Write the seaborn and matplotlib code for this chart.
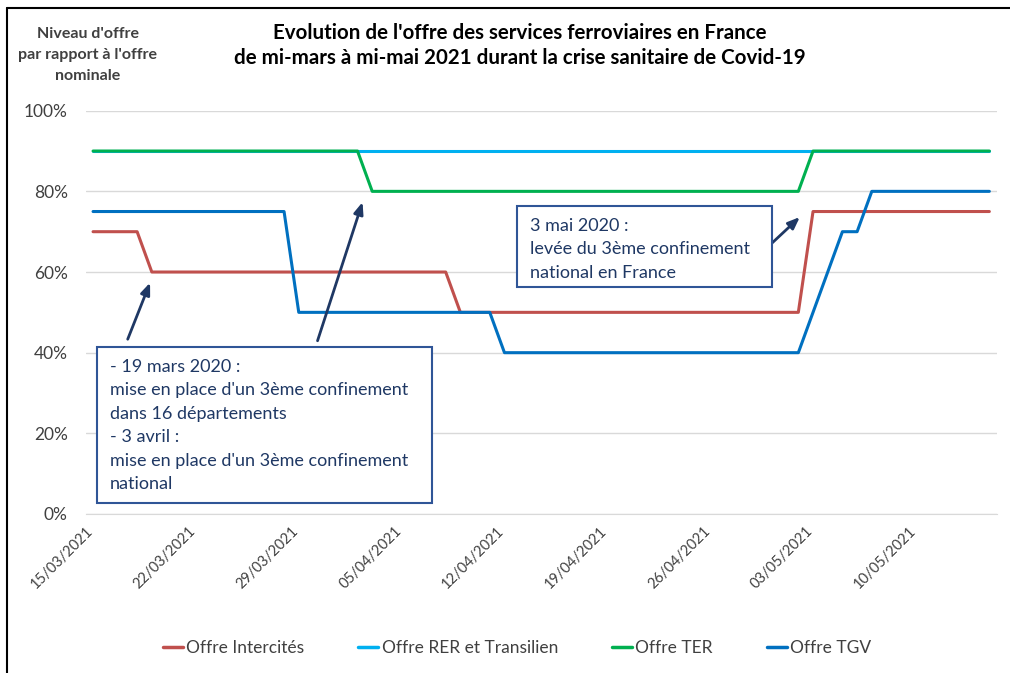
import pandas as pd
import matplotlib.pyplot as plt
import matplotlib.dates as mdates
from matplotlib.lines import Line2D
from matplotlib.patches import Rectangle
import seaborn as sns

# Daily values (share of nominal offer), 15/03/2021 -> 15/05/2021
dates = pd.date_range("2021-03-15", "2021-05-15", freq="D")

intercites = [0.70, 0.70, 0.70, 0.70, 0.60, 0.60, 0.60,
              0.60, 0.60, 0.60, 0.60, 0.60, 0.60, 0.60,
              0.60, 0.60, 0.60, 0.60, 0.60, 0.60, 0.60,
              0.60, 0.60, 0.60, 0.60, 0.50, 0.50, 0.50,
              0.50, 0.50, 0.50, 0.50, 0.50, 0.50, 0.50,
              0.50, 0.50, 0.50, 0.50, 0.50, 0.50, 0.50,
              0.50, 0.50, 0.50, 0.50, 0.50, 0.50, 0.50,
              0.75, 0.75, 0.75, 0.75, 0.75, 0.75, 0.75,
              0.75, 0.75, 0.75, 0.75, 0.75, 0.75]

rer_transilien = [0.90] * 62

ter = [0.90, 0.90, 0.90, 0.90, 0.90, 0.90, 0.90,
       0.90, 0.90, 0.90, 0.90, 0.90, 0.90, 0.90,
       0.90, 0.90, 0.90, 0.90, 0.90, 0.80, 0.80,
       0.80, 0.80, 0.80, 0.80, 0.80, 0.80, 0.80,
       0.80, 0.80, 0.80, 0.80, 0.80, 0.80, 0.80,
       0.80, 0.80, 0.80, 0.80, 0.80, 0.80, 0.80,
       0.80, 0.80, 0.80, 0.80, 0.80, 0.80, 0.80,
       0.90, 0.90, 0.90, 0.90, 0.90, 0.90, 0.90,
       0.90, 0.90, 0.90, 0.90, 0.90, 0.90]

tgv = [0.75, 0.75, 0.75, 0.75, 0.75, 0.75, 0.75,
       0.75, 0.75, 0.75, 0.75, 0.75, 0.75, 0.75,
       0.50, 0.50, 0.50, 0.50, 0.50, 0.50, 0.50,
       0.50, 0.50, 0.50, 0.50, 0.50, 0.50, 0.50,
       0.40, 0.40, 0.40, 0.40, 0.40, 0.40, 0.40,
       0.40, 0.40, 0.40, 0.40, 0.40, 0.40, 0.40,
       0.40, 0.40, 0.40, 0.40, 0.40, 0.40, 0.40,
       0.50, 0.60, 0.70, 0.70, 0.80, 0.80, 0.80,
       0.80, 0.80, 0.80, 0.80, 0.80, 0.80]

series_names = ["Offre Intercités", "Offre RER et Transilien", "Offre TER", "Offre TGV"]
series_colors = ["#C0504D", "#00B0F0", "#00B050", "#0070C0"]

df = pd.DataFrame({
    # Excel draws date points in the middle of each day slot
    "date": list(dates + pd.Timedelta(hours=12)) * 4,
    "value": intercites + rer_transilien + ter + tgv,
    "serie": [n for n in series_names for _ in range(len(dates))],
})

sns.set_style("white")
plt.rcParams["font.family"] = ["Lato", "DejaVu Sans"]

navy = "#1F3864"
txt = "#404040"

fig = plt.figure(figsize=(10.1, 6.73), dpi=100)
ax = fig.add_axes([85.7 / 1010, 1 - 514 / 673, 911 / 1010, 403.3 / 673])

sns.lineplot(data=df, x="date", y="value", hue="serie", hue_order=series_names,
             palette=series_colors, linewidth=2.2, legend=False, ax=ax)

ax.set_xlim(pd.Timestamp("2021-03-15"), pd.Timestamp("2021-05-16"))
ax.set_ylim(0, 1)
ax.set_yticks([0, 0.2, 0.4, 0.6, 0.8, 1.0])
ax.set_yticklabels(["0%", "20%", "40%", "60%", "80%", "100%"])
ax.set_xticks(pd.date_range("2021-03-15", "2021-05-10", freq="7D"))
ax.xaxis.set_major_formatter(mdates.DateFormatter("%d/%m/%Y"))
ax.set_xlabel("")
ax.set_ylabel("")

ax.grid(axis="y", color="#D9D9D9", linewidth=1)
ax.set_axisbelow(True)
for s in ["top", "right", "left"]:
    ax.spines[s].set_visible(False)
ax.spines["bottom"].set_color("#D9D9D9")
ax.tick_params(axis="y", length=0, pad=13, labelsize=12.5, labelcolor=txt)
ax.tick_params(axis="x", length=5, width=1, color="#D9D9D9", pad=2,
               labelsize=10.5, labelcolor=txt)
plt.setp(ax.get_xticklabels(), rotation=45, ha="right", rotation_mode="anchor")

# titles
fig.text(0.515, 1 - 33 / 673, "Evolution de l'offre des services ferroviaires en France",
         ha="center", va="center", fontsize=14.8, fontweight="bold", color="black")
fig.text(0.515, 1 - 58 / 673, "de mi-mars à mi-mai 2021 durant la crise sanitaire de Covid-19",
         ha="center", va="center", fontsize=14.8, fontweight="bold", color="black")
fig.text(88 / 1010, 1 - 55 / 673, "Niveau d'offre\npar rapport à l'offre\nnominale",
         ha="center", va="center", fontsize=11.5, fontweight="bold", color=txt,
         linespacing=1.65)

# annotations
d0 = pd.Timestamp("2021-03-15")


def day(n):
    return mdates.date2num(d0 + pd.Timedelta(days=n))


arrow = dict(arrowstyle="-|>,head_length=0.7,head_width=0.28", color=navy, lw=2)
ax.annotate("", xy=(day(4.45), 0.58), xytext=(day(2.79), 0.427), arrowprops=arrow)
ax.annotate("", xy=(day(18.9), 0.78), xytext=(day(15.72), 0.423), arrowprops=arrow)
ax.annotate("", xy=(day(48.74), 0.741), xytext=(day(46.45), 0.663), arrowprops=arrow)

ax.add_patch(Rectangle((day(0.77), 0.027), day(23.57) - day(0.77), 0.414 - 0.027,
                       fc="white", ec="#2F5597", lw=1.5, zorder=5))
ax.text(day(1.65), 0.385,
        "- 19 mars 2020 :\nmise en place d'un 3ème confinement\ndans 16 départements\n"
        "- 3 avril :\nmise en place d'un 3ème confinement\nnational",
        ha="left", va="top", fontsize=13, color=navy, linespacing=1.58, zorder=6)

ax.add_patch(Rectangle((day(29.36), 0.563), day(46.72) - day(29.36), 0.764 - 0.563,
                       fc="white", ec="#2F5597", lw=1.5, zorder=5))
ax.text(day(30.25), 0.735, "3 mai 2020 :\nlevée du 3ème confinement\nnational en France",
        ha="left", va="top", fontsize=13, color=navy, linespacing=1.58, zorder=6)

# legend
handles = [Line2D([0], [0], color=c, lw=2.5) for c in series_colors]
fig.legend(handles, series_names, loc="center", bbox_to_anchor=(517 / 1010, 1 - 648 / 673),
           ncol=4, frameon=False, handlelength=1.15, handletextpad=0.2,
           columnspacing=3.1, fontsize=12.5, labelcolor=txt)

# outer frame (top and left only)
fig.add_artist(Line2D([7 / 1010, 7 / 1010], [0, 1 - 8 / 673], transform=fig.transFigure,
                      color="black", lw=1.5))
fig.add_artist(Line2D([7 / 1010, 1], [1 - 8 / 673, 1 - 8 / 673], transform=fig.transFigure,
                      color="black", lw=1.5))

plt.savefig("out.png", dpi=100)
plt.close()
